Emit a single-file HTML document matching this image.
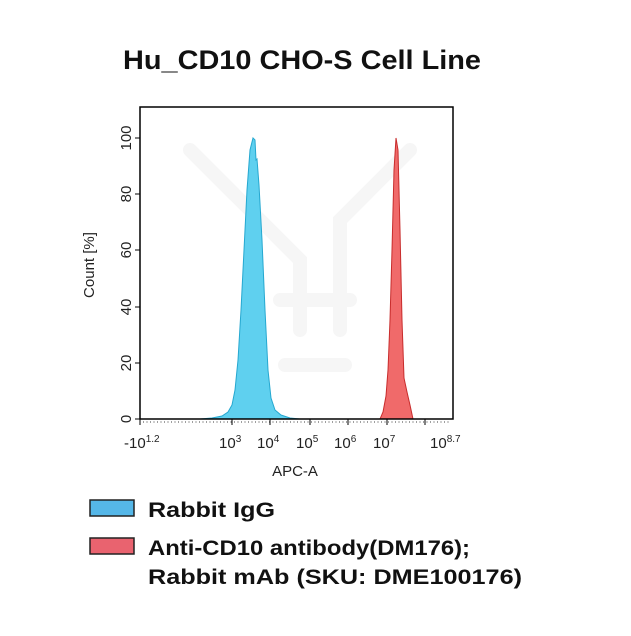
<!DOCTYPE html>
<html><head><style>
body{margin:0;background:#fff;}
svg text{font-family:"Liberation Sans",sans-serif;}
</style></head><body>
<svg width="631" height="631" viewBox="0 0 631 631">
<rect width="631" height="631" fill="#fff"/>
<g stroke="#f6f6f6" stroke-width="14" fill="none" stroke-linecap="round">
<path d="M190 150 L300 260 L300 330 M410 150 L340 220 L340 330"/>
<path d="M280 300 L350 300 M285 365 L345 365"/>
</g>
<text x="302" y="69" text-anchor="middle" font-size="27" font-weight="bold" fill="#111" textLength="358" lengthAdjust="spacingAndGlyphs">Hu_CD10 CHO-S Cell Line</text>
<!-- blue histogram -->
<path d="M200 419 L212 418 L222 416 L228 412 L232 405 L235 390 L238 360 L241 310 L244 250 L247 190 L250 150 L253 138 L255 140 L256 160 L257 159 L259 185 L262 240 L265 310 L268 370 L271 398 L275 410 L281 415 L290 418 L300 419 Z" fill="#5fd0ef" stroke="#25a8d0" stroke-width="1"/>
<!-- red histogram -->
<path d="M380 419 L383 412 L386 396 L388 370 L390 320 L392 250 L394 170 L396 138 L398 150 L400 230 L402 320 L404 378 L407 392 L410 405 L413 419 Z" fill="#f06a6a" stroke="#c82c2c" stroke-width="1"/>
<!-- axes box -->
<rect x="140" y="107" width="313" height="312" fill="none" stroke="#000" stroke-width="1.5"/>
<g stroke="#000" stroke-width="1">
<line x1="135" y1="419" x2="140" y2="419"/><line x1="135" y1="363" x2="140" y2="363"/>
<line x1="135" y1="307" x2="140" y2="307"/><line x1="135" y1="250" x2="140" y2="250"/>
<line x1="135" y1="194" x2="140" y2="194"/><line x1="135" y1="138" x2="140" y2="138"/>
<line x1="140" y1="419" x2="140" y2="425"/><line x1="232" y1="419" x2="232" y2="425"/>
<line x1="270" y1="419" x2="270" y2="425"/><line x1="310" y1="419" x2="310" y2="425"/>
<line x1="348" y1="419" x2="348" y2="425"/><line x1="387" y1="419" x2="387" y2="425"/>
<line x1="425" y1="419" x2="425" y2="425"/>
</g>
<g stroke="#000" stroke-width="0.8" stroke-dasharray="1 2.5">
<line x1="143" y1="422" x2="450" y2="422"/>
</g>
<g font-size="15" fill="#222" text-anchor="middle">
<text transform="translate(131,419) rotate(-90)">0</text>
<text transform="translate(131,363) rotate(-90)">20</text>
<text transform="translate(131,307) rotate(-90)">40</text>
<text transform="translate(131,250) rotate(-90)">60</text>
<text transform="translate(131,194) rotate(-90)">80</text>
<text transform="translate(131,138) rotate(-90)">100</text>
<text transform="translate(94,265) rotate(-90)">Count [%]</text>
<text x="295" y="476">APC-A</text>
</g>
<g font-size="15" fill="#222">
<text x="124" y="448">-10<tspan font-size="10" dy="-6">1.2</tspan></text>
<text x="219" y="448">10<tspan font-size="10" dy="-6">3</tspan></text>
<text x="257" y="448">10<tspan font-size="10" dy="-6">4</tspan></text>
<text x="296" y="448">10<tspan font-size="10" dy="-6">5</tspan></text>
<text x="334" y="448">10<tspan font-size="10" dy="-6">6</tspan></text>
<text x="373" y="448">10<tspan font-size="10" dy="-6">7</tspan></text>
<text x="430" y="448">10<tspan font-size="10" dy="-6">8.7</tspan></text>
</g>
<rect x="90" y="500" width="44" height="16" fill="#55b7e8" stroke="#222" stroke-width="1.5"/>
<rect x="90" y="538" width="44" height="16" fill="#e9636f" stroke="#222" stroke-width="1.5"/>
<g font-size="21" font-weight="bold" fill="#111">
<text x="148" y="517" textLength="127" lengthAdjust="spacingAndGlyphs">Rabbit IgG</text>
<text x="148" y="555" textLength="322" lengthAdjust="spacingAndGlyphs">Anti-CD10 antibody(DM176);</text>
<text x="148" y="584" textLength="374" lengthAdjust="spacingAndGlyphs">Rabbit mAb (SKU: DME100176)</text>
</g>
</svg>
</body></html>
